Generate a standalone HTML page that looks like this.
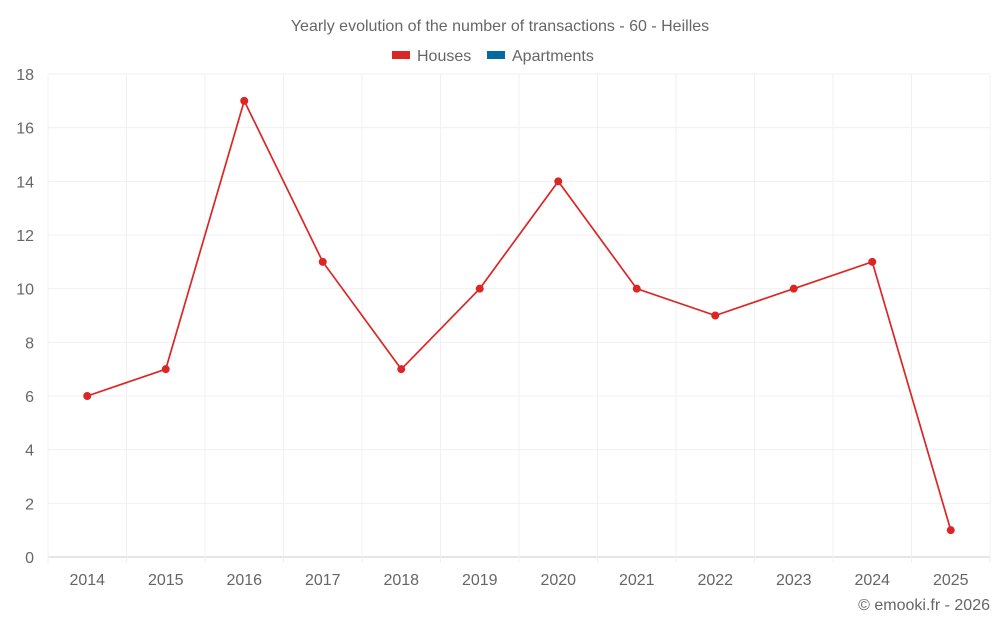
<!DOCTYPE html>
<html><head><meta charset="utf-8"><style>
body{margin:0;background:#fff;}
svg{display:block;font-family:"Liberation Sans",sans-serif;}
</style></head><body>
<svg id="chart" width="1000" height="625">
<text x="500" y="31" text-anchor="middle" font-size="16" fill="#666">Yearly evolution of the number of transactions - 60 - Heilles</text>
<g>
<rect x="392" y="51" width="18" height="8" fill="#dc2626"></rect>
<text x="417" y="61" font-size="16" fill="#666">Houses</text>
<rect x="487" y="51" width="18" height="8" fill="#0369a1"></rect>
<text x="512" y="61" font-size="16" fill="#666">Apartments</text>
</g>
<g id="grid"></g><g id="axes"></g><g id="series"></g>
<text x="990" y="610" text-anchor="end" font-size="16" fill="#666">© emooki.fr - 2026</text>
</svg>
<script>
const years=["2014","2015","2016","2017","2018","2019","2020","2021","2022","2023","2024","2025"];
const houses=[6,7,17,11,7,10,14,10,9,10,11,1];
const yTicks=[0,2,4,6,8,10,12,14,16,18];
const NS="http://www.w3.org/2000/svg";
const L=48,R=990,T=74,B=557,yMax=18;
const bw=(R-L)/years.length;
const xs=i=>L+bw*(i+0.5);
const ys=v=>B-(v/yMax)*(B-T);
function mk(tag,attrs,parent){const e=document.createElementNS(NS,tag);for(const k in attrs)e.setAttribute(k,attrs[k]);parent.appendChild(e);return e;}
const grid=document.getElementById('grid'),axes=document.getElementById('axes'),ser=document.getElementById('series');
yTicks.forEach(t=>{
 const l=mk('line',{x1:L,x2:R,y1:ys(t),y2:ys(t),stroke:t===0?'#ccc':'#f0f0f0','stroke-width':1},grid);
 
 
 const tx=mk('text',{x:34,y:ys(t)+6,'text-anchor':'end','font-size':16,fill:'#666'},axes);
 tx.textContent=t;
 
 
});
for(let i=0;i<=years.length;i++){
 const l=mk('line',{x1:L+bw*i,x2:L+bw*i,y1:T,y2:B+6,stroke:'#f0f0f0','stroke-width':1},grid);
 
 
}
years.forEach((y,i)=>{
 const tx=mk('text',{x:xs(i),y:585,'text-anchor':'middle','font-size':16,fill:'#666'},axes);
 tx.textContent=y;
 
 
});
const p=mk('polyline',{points:houses.map((v,i)=>xs(i)+','+ys(v)).join(' '),fill:'none',stroke:'#dc2626','stroke-width':1.7},ser);


houses.forEach((v,i)=>{
 const c=mk('circle',{cx:xs(i),cy:ys(v),r:4,fill:'#dc2626'},ser);
 
 
});
</script>
</body></html>
